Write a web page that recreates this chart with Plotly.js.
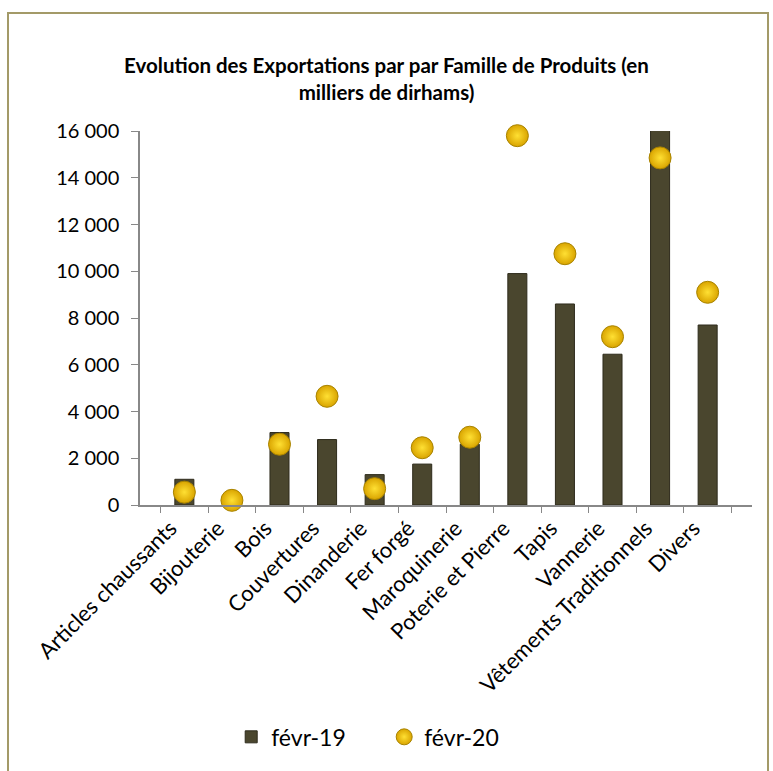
<!DOCTYPE html>
<html><head><meta charset="utf-8">
<script src="https://cdn.plot.ly/plotly-3.0.1.min.js"></script>
<style>body{margin:0;background:#fff}#wrap{position:relative;width:773px;height:771px}
#frame{position:absolute;left:7px;top:12px;width:758px;height:770px;border:2px solid #a39a68;pointer-events:none}</style>
</head><body><div id="wrap"><div id="chart" style="width:773px;height:771px"></div><div id="frame"></div></div>
<script>
const categories = ["Articles chaussants","Bijouterie","Bois","Couvertures","Dinanderie","Fer forgé","Maroquinerie","Poterie et Pierre","Tapis","Vannerie","Vêtements Traditionnels","Divers"];
const fevr19 = [1100, 0, 3100, 2800, 1300, 1750, 2600, 9900, 8600, 6450, 16300, 7700];
const fevr20 = [550, 200, 2600, 4650, 700, 2450, 2900, 15800, 10750, 7200, 14850, 9100];
const yTicks = [0,2000,4000,6000,8000,10000,12000,14000,16000];
const yTickLabels = ["0","2 000","4 000","6 000","8 000","10 000","12 000","14 000","16 000"];

const font = "Lato, 'Open Sans', sans-serif";
const data = [
 {type:'bar', name:'févr-19', x:categories, y:fevr19,
  marker:{color:'#4a462e', line:{color:'#2e2b1c', width:1}}},
 {type:'scatter', mode:'markers', name:'févr-20', x:categories, y:fevr20, cliponaxis:false,
  marker:{size:22, color:'#d9a400', gradient:{type:'radial', color:'#ffe033'}, line:{color:'#a88300', width:1}}}
];
const layout = {
 width:773, height:771,
 margin:{l:140, r:21, t:131, b:264},
 paper_bgcolor:'#fff', plot_bgcolor:'#fff',
 bargap:0.6,
 font:{family:font, color:'#000'},
 title:{text:'<b>Evolution des Exportations par par Famille de Produits (en<br>milliers de dirhams)</b>',
   font:{size:20.5, family:font}, x:0.5, xanchor:'center', y:0.905, yanchor:'middle', yref:'container'},
 xaxis:{type:'category', tickangle:-45, tickfont:{size:22}, ticks:'outside', tickson:'boundaries',
   ticklen:6, tickcolor:'#888', showline:true, linecolor:'#888', linewidth:1.5, showgrid:false, ticklabelshift:-14},
 yaxis:{range:[0,16000], tickvals:yTicks, ticktext:yTickLabels, tickfont:{size:20}, ticks:'outside',
   ticklen:7, tickcolor:'#888', showline:true, linecolor:'#888', linewidth:1.5, showgrid:false, zeroline:false, ticklabelstandoff:8},
 showlegend:true,
 legend:{orientation:'h', x:0.149, xanchor:'left', y:-0.62, yanchor:'middle', font:{size:23}, itemwidth:30, entrywidth:108, entrywidthmode:'pixels', traceorder:'normal'}
};
Plotly.newPlot('chart', data, layout, {displayModeBar:false});
</script></body></html>
